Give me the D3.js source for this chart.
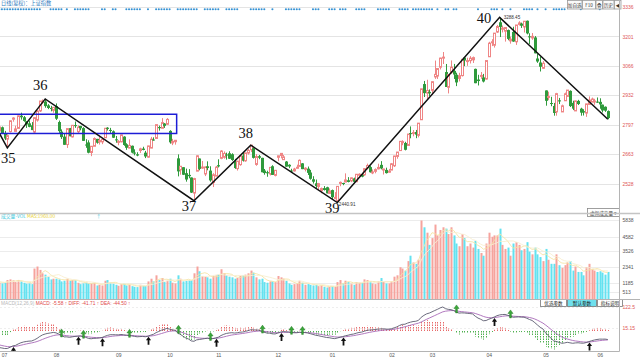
<!DOCTYPE html>
<html><head><meta charset="utf-8">
<script src="https://cdn.jsdelivr.net/npm/d3@7"></script>
<style>
body{margin:0;background:#fff;}
svg{display:block;}
</style>
</head><body>
<svg id="c" width="640" height="359" font-family="Liberation Sans, Noto Sans CJK SC, sans-serif"></svg>
<script>
// ---------------- DATA ----------------
const monthLabels = ["07","08","09","10","11","12","01","02","03","04","05","06"];
const daysPerMonth = [22,23,19,18,22,20,22,15,21,21,20,4];

const opens = [
2841.59,2768.26,2785.42,2757.58,2731.10,2765.84,2822.35,2766.43,2780.39,2838.52,2831.37,2813.14,2803.43,2794.25,2763.52,2818.29,2860.43,2900.75,2903.20,2885.55,2873.95,2862.91,
2882.51,2809.29,2765.56,2742.62,2706.38,2781.46,2741.37,2795.32,2764.97,2791.53,2781.52,2706.33,2716.09,2669.98,2698.48,2732.36,2718.66,2718.52,2737.72,2783.38,2773.18,2766.89,2730.27,
2716.32,2718.74,2742.66,2707.48,2690.25,2700.73,2669.77,2661.86,2679.10,2687.75,2669.26,2648.64,2690.19,2729.35,2734.32,2786.43,2780.85,2802.54,2799.15,
2768.79,2713.73,2719.34,2643.07,2590.44,2602.66,2575.42,2567.39,2555.68,2484.29,2584.51,2642.47,2601.06,2571.69,2606.80,2587.04,2532.46,2561.69,
2611.79,2643.21,2647.88,2660.73,2666.48,2662.03,2626.53,2596.27,2614.36,2655.87,2631.84,2667.51,2682.65,2689.60,2615.34,2653.01,2645.46,2587.27,2579.77,2571.77,2607.00,2565.36,
2647.96,2656.28,2637.15,2628.51,2613.74,2587.29,2585.65,2600.67,2606.25,2620.39,2592.87,2596.02,2578.33,2547.38,2529.01,2514.58,2494.60,2506.85,2510.85,2482.86,
2497.88,2461.78,2446.02,2528.70,2530.30,2534.64,2543.06,2540.22,2551.43,2536.12,2568.96,2569.67,2567.93,2599.80,2603.08,2578.86,2583.75,2595.21,2613.39,2590.80,2590.28,2579.70,
2589.49,2609.07,2651.94,2678.72,2716.95,2713.63,2702.28,2758.53,2756.56,2763.81,2748.38,2819.87,2983.21,2941.71,2947.26,
2954.37,3015.94,3019.93,3060.39,3103.82,3038.27,2968.34,3037.25,3043.55,3025.97,3009.00,3022.02,3104.35,3087.73,3090.57,3094.14,3052.71,3003.91,3018.47,3013.77,3006.29,
3108.28,3174.75,3160.98,3221.31,3266.11,3234.08,3225.26,3230.43,3180.86,3221.96,3176.79,3256.27,3260.11,3244.54,3273.03,3201.68,3194.20,3196.55,3100.18,3081.85,3055.50,
2954.04,2922.15,2896.45,2883.01,2855.97,2908.83,2855.66,2906.76,2926.94,2951.99,2897.03,2860.29,2906.03,2870.80,2859.24,2850.48,2890.02,2901.34,2901.96,2902.80,
2901.72,2889.03,2879.42,2859.54];

const highs = [
2841.59,2787.53,2788.74,2768.83,2753.35,2815.51,2831.26,2792.44,2839.24,2852.12,2836.91,2813.14,2816.43,2809.17,2830.88,2863.78,2905.56,2912.88,2915.30,2891.27,2883.49,2876.40,
2894.48,2816.25,2775.77,2759.02,2779.37,2782.38,2795.80,2811.88,2794.26,2791.75,2785.71,2730.66,2725.88,2699.37,2738.99,2732.36,2741.68,2735.85,2780.90,2785.96,2782.70,2770.97,2745.62,
2726.51,2751.51,2744.50,2712.28,2730.20,2701.72,2684.58,2671.10,2691.70,2696.20,2677.32,2700.73,2741.29,2739.36,2797.49,2793.05,2827.33,2804.43,2827.34,
2771.94,2732.34,2726.71,2661.27,2607.00,2602.66,2596.11,2593.77,2555.68,2553.93,2657.23,2642.47,2631.17,2605.79,2629.44,2606.92,2575.38,2608.47,
2638.82,2680.34,2674.80,2669.20,2675.52,2666.49,2640.88,2631.09,2656.48,2671.95,2668.17,2686.20,2703.51,2692.58,2662.59,2658.63,2645.63,2594.46,2586.67,2601.74,2611.58,2588.91,
2654.80,2666.10,2658.47,2630.80,2616.13,2595.51,2599.79,2614.15,2638.10,2621.40,2602.40,2605.66,2590.19,2561.37,2546.12,2530.80,2509.51,2516.30,2513.09,2505.47,
2500.28,2488.48,2515.32,2536.98,2531.35,2574.41,2557.18,2555.18,2554.79,2570.34,2574.82,2576.86,2598.88,2618.98,2609.11,2592.27,2597.32,2618.63,2630.32,2595.63,2600.44,2594.87,
2622.04,2654.55,2672.48,2722.76,2725.80,2718.94,2754.42,2789.33,2772.81,2773.18,2804.23,2961.28,2997.49,3002.94,2958.52,
2995.66,3090.80,3055.31,3103.83,3129.94,3075.23,3027.74,3091.31,3075.40,3035.06,3034.77,3096.42,3107.56,3103.79,3111.16,3109.21,3053.98,3025.65,3038.33,3029.67,3090.76,
3176.62,3188.63,3216.30,3253.75,3288.45,3251.22,3244.20,3232.81,3200.55,3245.51,3253.60,3270.79,3264.33,3271.19,3273.97,3215.73,3217.01,3202.80,3121.15,3109.05,3088.41,
2954.04,2948.25,2924.95,2896.76,2942.89,2919.70,2889.15,2944.06,2955.71,2954.35,2907.03,2907.75,2910.95,2874.83,2867.93,2892.85,2926.77,2921.28,2915.74,2921.82,
2918.06,2889.03,2880.80,2862.49];

const lows = [
2767.41,2742.66,2757.78,2726.65,2691.02,2761.45,2810.93,2766.43,2780.39,2820.41,2810.71,2782.48,2785.49,2772.55,2757.02,2811.32,2855.39,2891.40,2874.82,2868.41,2858.36,2851.94,
2818.82,2759.62,2732.03,2704.61,2690.76,2744.07,2738.43,2782.80,2758.11,2771.49,2723.26,2691.33,2666.11,2653.11,2698.48,2710.37,2706.22,2708.13,2737.72,2770.39,2759.61,2736.15,2714.64,
2703.03,2716.54,2700.61,2682.06,2689.42,2666.06,2656.97,2652.80,2667.93,2680.09,2644.30,2646.07,2689.74,2724.08,2731.77,2770.05,2780.85,2782.38,2795.59,
2710.49,2703.56,2705.89,2560.59,2568.25,2566.67,2536.44,2552.04,2484.53,2449.20,2584.51,2588.35,2595.28,2561.99,2588.53,2536.44,2511.74,2561.69,
2601.61,2639.11,2641.60,2637.18,2640.38,2631.61,2595.32,2587.19,2609.46,2628.56,2627.50,2660.17,2671.76,2642.28,2609.28,2639.28,2579.48,2568.26,2558.93,2564.87,2566.93,2560.60,
2630.06,2643.13,2635.72,2604.50,2598.27,2577.78,2582.74,2597.81,2606.25,2593.70,2583.25,2566.86,2545.42,2527.73,2504.01,2498.82,2483.27,2495.82,2482.86,2482.16,
2456.42,2455.93,2440.91,2515.51,2520.16,2534.64,2533.23,2534.25,2532.04,2534.49,2563.54,2556.62,2563.27,2592.91,2578.10,2570.71,2574.72,2592.55,2592.83,2569.09,2573.73,2577.62,
2589.49,2603.55,2641.36,2678.72,2703.14,2679.57,2702.28,2734.96,2744.16,2735.45,2739.24,2819.87,2923.89,2915.59,2928.47,
2934.07,3006.91,3006.54,3050.06,3075.02,2969.86,2940.34,3029.92,3006.52,2973.78,2995.19,3017.86,3065.18,3066.53,3077.45,3079.74,2987.12,2976.76,3007.16,2990.68,3003.75,
3108.28,3157.05,3150.16,3216.76,3198.41,3219.49,3177.52,3183.88,3168.10,3176.48,3162.42,3250.99,3240.12,3219.09,3210.79,3166.78,3185.76,3123.83,3080.36,3040.73,3052.94,
2884.16,2909.36,2881.65,2838.46,2838.38,2891.65,2855.56,2906.76,2925.34,2878.12,2863.98,2860.29,2887.19,2838.39,2839.30,2833.08,2887.91,2899.53,2888.38,2897.06,
2870.15,2852.99,2856.08,2822.00];

const closes = [
2775.56,2786.89,2759.13,2733.88,2747.23,2815.11,2827.63,2777.77,2837.66,2831.18,2814.04,2798.13,2787.26,2772.55,2829.27,2859.54,2905.56,2903.65,2882.23,2873.59,2869.05,2876.40,
2824.53,2768.02,2740.44,2705.16,2779.37,2744.07,2794.38,2795.31,2785.87,2780.96,2723.26,2705.50,2668.97,2698.47,2733.85,2714.61,2724.62,2729.43,2780.90,2777.98,2769.30,2737.74,2725.25,
2720.73,2750.58,2704.34,2691.59,2702.30,2669.48,2664.80,2656.11,2686.58,2681.64,2651.79,2699.95,2730.85,2729.24,2797.49,2781.14,2806.81,2791.77,2821.35,
2716.51,2721.01,2725.84,2583.46,2606.91,2568.10,2546.33,2561.61,2486.42,2550.47,2654.88,2594.83,2603.30,2603.80,2598.85,2542.10,2568.05,2602.78,
2606.24,2676.48,2665.43,2659.36,2641.34,2635.63,2598.87,2630.52,2654.88,2632.24,2668.17,2679.11,2703.51,2645.43,2651.51,2645.85,2579.48,2575.81,2574.68,2601.74,2567.44,2588.19,
2654.80,2665.96,2649.81,2605.18,2605.89,2584.58,2594.09,2602.15,2634.05,2593.74,2597.97,2576.65,2549.56,2536.27,2516.25,2527.01,2504.82,2498.29,2483.09,2493.90,
2465.29,2464.36,2514.87,2533.09,2526.46,2544.34,2535.10,2553.83,2535.77,2570.34,2570.42,2559.64,2596.01,2610.51,2579.70,2581.00,2591.69,2601.72,2596.98,2594.25,2575.58,2584.57,
2618.23,2653.90,2671.89,2721.07,2719.70,2682.39,2754.36,2755.65,2761.22,2751.80,2804.23,2961.28,2941.52,2953.82,2940.95,
2994.01,3027.58,3054.25,3102.10,3106.42,2969.86,3026.99,3060.31,3026.95,2990.69,3021.75,3096.42,3090.98,3090.64,3101.46,3104.15,2987.12,2997.10,3022.72,2994.94,3090.76,
3170.36,3176.82,3216.30,3246.57,3244.81,3239.66,3241.93,3189.96,3188.63,3177.79,3253.60,3263.12,3250.20,3270.80,3215.04,3198.59,3201.61,3123.83,3086.40,3062.50,3078.34,
2906.46,2926.39,2893.76,2850.95,2939.21,2903.71,2883.61,2938.68,2955.71,2882.30,2870.60,2905.97,2891.70,2852.52,2852.99,2892.38,2909.91,2914.70,2905.81,2898.70,
2890.08,2862.28,2861.42,2827.80];

const volumes = [
1350,1200,1150,1200,1400,1450,1380,1250,1400,1330,1200,1130,1150,1100,2250,2400,2150,1900,1800,1650,1450,1500,
1500,1450,1300,1350,1500,1350,1400,1400,1200,1100,1150,1200,1150,1150,1200,1000,1050,1000,1350,1400,1200,1150,1050,
980,1100,1150,1000,1050,950,900,880,1050,1000,950,1300,1500,1300,1750,1400,1550,1250,1350,
1500,1200,1150,1750,1500,1300,1350,1400,1400,1900,2400,2050,1700,1650,1600,1500,1700,1750,
1800,2200,1900,1750,1650,1600,1500,1550,1700,1750,1800,1900,2100,1950,1600,1450,1500,1250,1200,1300,1300,1250,
1700,1600,1500,1350,1150,1050,1100,1150,1350,1200,1050,1100,1050,1000,1050,950,1000,900,850,900,
950,900,1250,1400,1150,1350,1250,1150,1050,1250,1200,1200,1450,1400,1300,1150,1100,1300,1550,1250,1150,1150,
1300,1650,1750,2350,2250,2100,2800,3200,2700,2600,2900,5800,5300,4900,4000,
4500,5500,4700,5100,5300,5200,4800,5300,4700,4100,3900,4800,4500,3900,4100,3800,4300,3700,3400,3200,4100,
4900,4600,4700,4700,5200,4000,3700,3800,3200,4100,4200,4000,3600,3700,4200,3500,3300,3800,3300,3100,2800,
3700,2900,2600,2600,3300,2500,2300,2500,2700,2800,2100,2400,2000,2000,1750,2350,2600,2200,2100,2000,
2050,1950,1800,2000];

// closes before the first visible day (Apr-Jun 2018), used only to seed the MACD averages
const warmupCloses = [
3163.18,3136.63,3131.11,3138.29,3190.32,3208.08,3180.16,3159.05,3110.65,3066.80,3091.40,3117.38,3071.54,3068.01,3128.93,3117.97,3075.03,3082.23,
3081.18,3100.86,3091.03,3136.65,3161.50,3159.15,3174.41,3163.26,3174.03,3192.12,3169.57,3154.28,3193.30,3213.84,3214.35,3168.96,3154.65,3141.30,3135.08,3120.46,3041.44,3095.47,
3075.14,3091.19,3114.21,3115.18,3109.50,3067.15,3052.78,3079.80,3049.80,3044.16,3021.90,2907.82,2915.73,2875.81,2889.76,2859.34,2844.51,2813.18,2786.90,2847.42];

const priceTicks = [3336,3201,3066,2932,2797,2663,2528];
const volumeTicks = [5838,4582,3526,2341,1185,513];
const macdTicks = [122.5,15.15];

// zigzag pivots (day index, price)
const pivotIdx = [-13,4,18,73,94,126,186,226];
const pivotVal = [3080,2691.02,2915.30,2449.20,2703.51,2440.91,3288.45,2822.00];
const pivotNames = ["","35","36","37","38","39","40",""];
const pivotValueShown = [false,false,false,false,false,true,true,false];

// consolidation box (day index range, price range)
const boxDays = [-5,66.6];
const boxPrices = [2845,2757];

// days carrying an information marker (dot row at top)
const eventIdx = [1,2,3,4,5,6,7,8,9,10,11,12,13,14,15,16,20,21,22,23,24,26,29,30,31,32,33,34,39,40,43,44,
48,49,50,51,52,53,56,59,60,61,62,63,64,67,68,69,70,71,72,73,74,77,78,79,80,81,82,85,86,87,88,89,
94,95,96,97,98,99,102,107,108,109,110,111,112,117,118,119,123,124,125,127,128,129,133,134,135,136,
141,142,143,144,145,149,150,151,152,154,155,156,157,158,159,160,161,163,166,167,169,170,178,183,184,185,187,190,
195,196,197,198,200,203,206,207,208,209,210,216,223];

// ---------------- LAYOUT ----------------
const svg = d3.select("#c");
const RIGHT = 619.5;
const n = closes.length;
const x = d3.scaleLinear().domain([1.294, 230.5]).range([0, 620]);
const yP = d3.scaleLinear().domain([2393, 3368]).range([213, 0]);
const yV = d3.scaleLinear().domain([0, 5838]).range([299, 220]);
const yM = d3.scaleLinear().domain([-102, 122.5]).range([351, 307]);
const px = i => Math.round(x(i)) + 0.5;
const CJK = "Noto Sans CJK SC";

const UP = "#ef8585", DOWN = "#2f9a3c", VUP = "#f6a39d", VDN = "#63e2f0";

const defs = svg.append("defs");
[["cMain",0,0,RIGHT,213],["cVol",0,214,RIGHT,85],["cMacd",0,300,RIGHT,51]].forEach(c=>{
  defs.append("clipPath").attr("id",c[0]).append("rect")
    .attr("x",c[1]).attr("y",c[2]).attr("width",c[3]).attr("height",c[4]);
});

svg.append("rect").attr("width",640).attr("height",359).attr("fill","#fff");

// ---------- main panel ----------
const gGrid = svg.append("g");
priceTicks.forEach(v=>{
  const yy = Math.round(yP(v))+0.5;
  gGrid.append("line").attr("x1",0).attr("x2",RIGHT).attr("y1",yy).attr("y2",yy)
    .attr("stroke","#e4e4e4").attr("stroke-width",1);
});

const main = svg.append("g").attr("clip-path","url(#cMain)");
const data = d3.range(n).map(i=>({i,o:opens[i],h:highs[i],l:lows[i],c:closes[i],v:volumes[i]}));

main.selectAll("line.wick").data(data).enter().append("line")
  .attr("x1",d=>px(d.i)).attr("x2",d=>px(d.i))
  .attr("y1",d=>yP(d.h)).attr("y2",d=>yP(d.l))
  .attr("stroke",d=>d.c>=d.o?UP:DOWN).attr("stroke-width",1);

main.selectAll("rect.body").data(data).enter().append("rect")
  .attr("x",d=>d.c>=d.o? px(d.i)-1 : px(d.i)-1.5)
  .attr("width",d=>d.c>=d.o?2:3)
  .attr("y",d=>yP(Math.max(d.o,d.c)))
  .attr("height",d=>Math.max(1,Math.abs(yP(d.o)-yP(d.c))))
  .attr("fill",d=>d.c>=d.o?"#fff":DOWN)
  .attr("stroke",d=>d.c>=d.o?UP:"none").attr("stroke-width",1);

// box
main.append("rect")
  .attr("x",x(boxDays[0])).attr("width",x(boxDays[1])-x(boxDays[0]))
  .attr("y",yP(boxPrices[0])).attr("height",yP(boxPrices[1])-yP(boxPrices[0]))
  .attr("fill","none").attr("stroke","#1d1dd6").attr("stroke-width",1.5);

// zigzag
const zz = d3.line().x(d=>x(d[0])).y(d=>yP(d[1]));
main.append("path").attr("d",zz(pivotIdx.map((d,k)=>[d,pivotVal[k]])))
  .attr("fill","none").attr("stroke","#111").attr("stroke-width",1.5);

// pivot labels (offsets are layout, in px)
const labelOffset = [[0,0],[1,15],[-5,-9],[-5,10],[-5,-7],[-5,10.5],[-15.6,5.4],[0,0]];
pivotNames.forEach((t,k)=>{
  if(!t) return;
  svg.append("text").attr("x",x(pivotIdx[k])+labelOffset[k][0]).attr("y",yP(pivotVal[k])+labelOffset[k][1])
    .attr("text-anchor","middle").attr("font-family","Liberation Serif, DejaVu Serif, serif")
    .attr("font-size",14.5).attr("fill","#111").text(t);
});
const valueOffset = [[0,0],[0,0],[0,0],[0,0],[0,0],[1.5,3.5],[4,1.5],[0,0]];
pivotValueShown.forEach((s,k)=>{
  if(!s) return;
  svg.append("text").attr("x",x(pivotIdx[k])+valueOffset[k][0]).attr("y",yP(pivotVal[k])+valueOffset[k][1])
    .attr("font-size",4.6).attr("fill","#333").text(pivotVal[k].toFixed(2));
});

// event dots
svg.selectAll("circle.ev").data(eventIdx).enter().append("circle")
  .attr("cx",d=>x(d)).attr("cy",9.2).attr("r",1.05)
  .attr("fill","#3592d4");

// title
svg.append("text").attr("x",1).attr("y",5.3).attr("font-size",5.2)
  .attr("font-family",CJK).attr("fill","#2f78bb").text("日线(复权)：上证指数");

// top-right buttons
const topBtns = [["加自选",567,14.5],["F10",582,13],["叠",595.5,6.5],["历史",602.5,11],["◀",614,6.5]];
topBtns.forEach(b=>{
  svg.append("rect").attr("x",b[1]+0.5).attr("y",0.5).attr("width",b[2]).attr("height",8.5)
    .attr("fill","#fafafa").attr("stroke","#999").attr("stroke-width",0.8);
  svg.append("text").attr("x",b[1]+0.5+b[2]/2).attr("y",6.6).attr("text-anchor","middle")
    .attr("font-family",CJK).attr("font-size",4.6).attr("fill","#333").text(b[0]);
});

// price axis
const axP = svg.append("g").attr("transform",`translate(${RIGHT},0)`)
  .call(d3.axisRight(yP).tickValues(priceTicks).tickFormat(d3.format("d")).tickSize(0).tickPadding(3));
axP.select(".domain").remove();
axP.selectAll("text").attr("font-size",5).attr("fill","#de5656").attr("font-family","Liberation Sans");

// ---------- volume panel ----------
const gv = svg.append("g");
volumeTicks.forEach(v=>{
  const yy = Math.round(yV(v))+0.5;
  gv.append("line").attr("x1",0).attr("x2",RIGHT).attr("y1",yy).attr("y2",yy)
    .attr("stroke","#ececec").attr("stroke-width",1);
});
const vol = svg.append("g").attr("clip-path","url(#cVol)");
vol.selectAll("rect.vb").data(data).enter().append("rect")
  .attr("x",d=>px(d.i)-1).attr("width",2)
  .attr("y",d=>yV(d.v)).attr("height",d=>yV(0)-yV(d.v))
  .attr("fill",d=>d.c>=d.o?VUP:VDN);
const ma = (arr,k)=>arr.map((_,i)=>{const s=arr.slice(Math.max(0,i-k+1),i+1);return d3.mean(s);});
const vma5 = ma(volumes,5), vma10 = ma(volumes,10);
const vl = d3.line().x((d,i)=>x(i)).y(d=>yV(d));
vol.append("path").attr("d",vl(vma5)).attr("fill","none").attr("stroke","#f5e4a6").attr("stroke-width",0.9);
vol.append("path").attr("d",vl(vma10)).attr("fill","none").attr("stroke","#f8eed0").attr("stroke-width",0.9);

const axV = svg.append("g").attr("transform",`translate(${RIGHT},0)`)
  .call(d3.axisRight(yV).tickValues(volumeTicks).tickFormat(d3.format("d")).tickSize(0).tickPadding(3));
axV.select(".domain").remove();
axV.selectAll("text").attr("font-size",5).attr("fill","#555");

// volume header
const vh = svg.append("text").attr("x",1).attr("y",218).attr("font-size",4.8).attr("font-family",CJK);
vh.append("tspan").attr("fill","#38c8dc").text("成交量-VOL ");
vh.append("tspan").attr("fill","#e8cf2a").text("MA5:"+d3.format(".2f")(vma5[n-1])+" ");
vh.append("tspan").attr("fill","#38c8dc").attr("dx",40).text("↑");

svg.append("rect").attr("x",587.5).attr("y",208.5).attr("width",32).attr("height",8)
  .attr("fill","#fff").attr("stroke","#888").attr("stroke-width",0.8);
svg.append("text").attr("x",603.5).attr("y",214.6).attr("text-anchor","middle").attr("font-size",4.6)
  .attr("font-family",CJK).attr("fill","#333").text("虚拟成交量 ▾");

// ---------- MACD ----------
const allC = warmupCloses.concat(closes);
let e12 = allC[0], e26 = allC[0], dea = 0;
const DIF = [], DEA = [];
allC.forEach(c=>{
  e12 = e12*11/13 + c*2/13;
  e26 = e26*25/27 + c*2/27;
  const d = e12 - e26;
  dea = dea*8/10 + d*2/10;
  DIF.push(d); DEA.push(dea);
});
const off = warmupCloses.length;
const dif = DIF.slice(off), dea9 = DEA.slice(off);
const hist = dif.map((d,i)=>2*(d-dea9[i]));

const gm = svg.append("g");
macdTicks.forEach(v=>{
  const yy = Math.round(yM(v))+0.5;
  gm.append("line").attr("x1",0).attr("x2",RIGHT).attr("y1",yy).attr("y2",yy)
    .attr("stroke","#eeeeee").attr("stroke-width",1).attr("stroke-dasharray","2,2");
});
const mac = svg.append("g").attr("clip-path","url(#cMacd)");
mac.selectAll("line.h").data(hist).enter().append("line")
  .attr("x1",(d,i)=>px(i)).attr("x2",(d,i)=>px(i))
  .attr("y1",yM(0)).attr("y2",d=>yM(d))
  .attr("stroke",d=>d>=0?"#e86a6a":"#4fb04f").attr("stroke-width",1)
  .attr("stroke-dasharray","1.5,1");
const ml = d3.line().x((d,i)=>x(i)).y(d=>yM(d));
mac.append("path").attr("d",ml(dea9)).attr("fill","none").attr("stroke","#a86ab8").attr("stroke-width",0.9);
mac.append("path").attr("d",ml(dif)).attr("fill","none").attr("stroke","#5a5a6e").attr("stroke-width",0.9);

// cross arrows (only crosses that hold for two days)
const arrowPath = "M0,0 L-2.6,3.6 L-0.9,3.6 L-0.9,8 L0.9,8 L0.9,3.6 L2.6,3.6 Z";
for(let i=1;i<n-1;i++){
  const gold = dif[i-1]<=dea9[i-1] && dif[i]>dea9[i] && dif[i+1]>dea9[i+1];
  const dead = dif[i-1]>=dea9[i-1] && dif[i]<dea9[i] && dif[i+1]<dea9[i+1];
  if(!gold && !dead) continue;
  if(gold){
    mac.append("path").attr("d",arrowPath)
      .attr("transform",`translate(${px(i)},${yM(Math.min(dif[i],dea9[i]))+0.5})`).attr("fill","#111");
  } else {
    mac.append("path").attr("d",arrowPath)
      .attr("transform",`translate(${px(i)},${yM(Math.max(dif[i],dea9[i]))-6})`)
      .attr("fill","#3aa83a").attr("stroke","#1d6d1d").attr("stroke-width",0.4);
  }
}

const axM = svg.append("g").attr("transform",`translate(${RIGHT},0)`)
  .call(d3.axisRight(yM).tickValues(macdTicks).tickFormat(d=>d).tickSize(0).tickPadding(3));
axM.select(".domain").remove();
axM.selectAll("text").attr("font-size",5).attr("fill","#de5656");

// MACD header
const mh = svg.append("text").attr("x",1).attr("y",304.8).attr("font-size",4.8);
mh.append("tspan").attr("fill","#b8b8b8").text("MACD(12,26,9)  ");
mh.append("tspan").attr("fill","#e04848").text("MACD: -5.58 ↑  DIFF: -41.71 ↑  DEA: -44.50 ↑");

const mBtns = [["优选参数",540.5,26,"#fff"],["默认参数",567.5,29,"#6fe0ee"],["指标说明",597.5,25,"#fff"]];
mBtns.forEach(b=>{
  svg.append("rect").attr("x",b[1]).attr("y",299.5).attr("width",b[2]).attr("height",7)
    .attr("fill",b[3]).attr("stroke","#777").attr("stroke-width",0.8);
  svg.append("text").attr("x",b[1]+b[2]/2).attr("y",305).attr("text-anchor","middle")
    .attr("font-family",CJK).attr("font-size",4.6).attr("fill","#222").text(b[0]);
});

// ---------- frame ----------
const frame = svg.append("g").attr("stroke","#b4b4b4").attr("fill","none");
frame.append("line").attr("x1",RIGHT).attr("x2",RIGHT).attr("y1",0).attr("y2",351.5);
frame.append("line").attr("x1",0).attr("x2",640).attr("y1",213.5).attr("y2",213.5).attr("stroke-width",1.5).attr("stroke","#c4c4c4");
frame.append("line").attr("x1",0).attr("x2",640).attr("y1",299.5).attr("y2",299.5);
frame.append("line").attr("x1",0).attr("x2",RIGHT).attr("y1",351.5).attr("y2",351.5);

// ---------- time axis ----------
const starts = [];
daysPerMonth.reduce((acc,d)=>{starts.push(acc);return acc+d;},0);
const axX = svg.append("g").attr("transform","translate(0,351.5)")
  .call(d3.axisBottom(x).tickValues(starts).tickFormat((d,k)=>monthLabels[k]).tickSize(0).tickPadding(2));
axX.select(".domain").remove();
axX.selectAll("text").attr("font-size",5).attr("fill","#555")
  .attr("x",function(d){ return Math.max(4, x(d)) - x(d); });
</script>
</body></html>
